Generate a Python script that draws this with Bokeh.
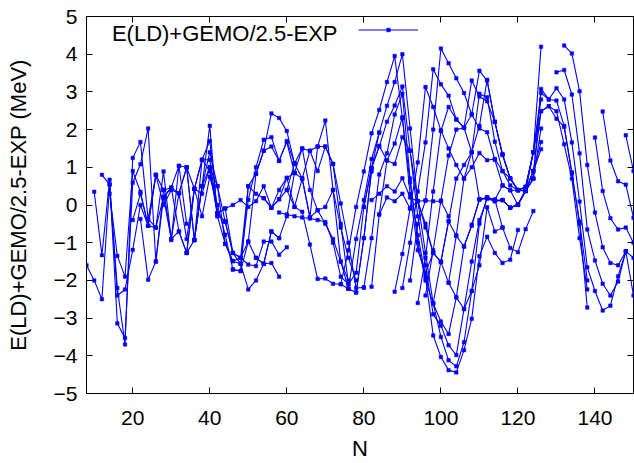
from bokeh.plotting import figure
from bokeh.models import (LinearAxis, Range1d, FixedTicker, Legend, LegendItem,
                          Label)
from bokeh.embed import file_html
from bokeh.resources import INLINE

# ---- data: each chain = (first N, values at N, N+2, N+4, ...) ----
c01 = (8,  [-1.6, -2.0, -2.5, 0.55, -2.2, -3.7, 1.25, 1.67, -0.38, 0.8])
c02 = (10, [0.35, -1.33, 0.67, -3.14, -3.53, 0.59, 1.08, 2.03, -1.5, 0.4, 0.46])
c03 = (12, [0.8, 0.54, -2.4, -2.24, -1.19, 0.0, -0.55, -0.6, 0.89, -0.93, 1.04, -0.5])
c04 = (14, [0.3, -1.35, -1.9, 0.9, 0.35, -0.55, 0.8, 0.0, 0.4, 0.31, 1.0, 0.43, 1.2])
c05 = (22, [-0.37, -1.98, -1.5, 0.2, 0.46, -0.7, -1.27, -0.93, 0.5, 2.1, -0.3])
c06 = (20, [-0.4, 0.3, -0.55, 0.8, 0.4, -0.9, 0.31, -0.9, 0.43, 1.2, 1.7, -0.22])
c07 = (24, [-0.37, -0.6, 0.2, 0.46, 1.04, 1.0, -0.93, 0.5, 1.4, 0.5, -0.44])
c08 = (28, [0.2, -0.9, -0.7, -1.27, 0.43, 0.3, 1.0, -0.3, -1.03, -1.49, -1.56, -2.24, -2.0, -1.56, -1.54, -1.9])
c09 = (30, [0.46, 0.31, 1.0, -0.93, 1.2, 1.2, -0.22, -0.44, -1.27, -1.4, -1.58, -1.62, -0.97, -0.97, -1.32, -1.12])
c10 = (34, [-1.27, 0.43, -0.3, 0.75, 0.0, -0.79, -1.71, -1.75, -0.97, -1.4, -1.56, -0.7, -0.88])
c11 = (36, [-0.93, 0.5, 1.0, 0.5, -1.03, -1.49, -1.4, 0.5, 0.83, 1.44, 2.43, 2.31, 1.96, 1.1])
c12 = (38, [1.2, 0.9, -0.22, -0.09, -1.27, -1.56, 0.14, 1.0, 1.73, 1.8, 1.17, 1.67, 0.85])
c13 = (42, [-0.22, -0.09, 0.0, 0.13, -0.05, 0.1, 0.5, -0.07, 0.15, 0.72, 0.85, 1.5, 1.44, 1.55, 1.55, 1.09, 0.04, -1.0, -2.2, -2.19])
c14 = (44, [-0.44, -1.27, -1.4, -0.97, 0.83, 1.44, 1.55, 1.17, 1.7, 1.1, 0.7, -0.33, -0.14, -0.05, 0.4, -1.5, -2.22, -2.32, -0.88, 0.89])
c15 = (46, [-1.71, -1.75, 0.5, 0.3, 0.18, -0.07, 0.4, 0.72, -0.05, 0.7, 1.44, 0.9, 1.55, 1.09, -0.5, -2.1, -1.8, -0.05, 0.98, 1.92])
c16 = (60, [0.4, -0.05, -0.18, -1.05, -1.96, -1.95, -2.09, -2.1, -2.22])
c17 = (54, [0.18, -0.07, 0.15, 0.4, 1.1, 1.5, 0.4, -0.14, -0.5, -0.9, -1.5, -2.0])
c18 = (52, [-1.4, -1.56, -0.7, -0.88, -0.3, 0.85, 0.7, -0.33, 1.55, 2.24, 0.4, -0.6, -1.4, -2.0])
c19 = (58, [-0.2, -0.25, -0.3, -0.33, -0.36, -0.4, -0.45, -1.0, -1.9, -2.1])
r01 = (74, [-2.1, -1.2, -0.05, 0.89, 1.9, 2.52, 3.26, 3.95, 2.3, 0.6, -0.8, -1.9, -3.46, -4.03, -4.38, -4.44, -3.85, -3.02, -1.36, -0.84, -1.27, -1.54, -1.45, -0.66])
r02 = (76, [-2.22, -0.9, 0.13, 1.22, 1.92, 2.63, 3.26, 4.0, 2.03, 0.1, -1.27, -2.61, -3.5, -4.12, -4.28, -3.64, -2.28, -0.5, 0.2, 0.14, 0.13, -0.07, 0.01, 0.37, 0.9, 1.48])
r03 = (78, [-2.32, -0.88, 0.97, 1.55, 2.21, 2.64, 3.14, 1.44, -0.3, -1.6, -2.9, -3.2, -3.72, -3.98, -2.76, -1.5, -0.4, 0.17, 0.1, 0.13, -0.07, 0.01, 0.39, 0.9, 2.49, 2.62, 2.49, 1.61, 0.7, -0.88, -2.24])
r04 = (80, [-2.19, -0.88, 0.81, 1.37, 2.4, 2.95, 0.7, -1.0, -2.0, -2.61, -3.09, -3.42, -2.45, -1.1, -0.52, 0.15, 0.2, 0.14, 0.52, 0.39, 0.0, 0.37, 0.7])
r05 = (82, [-2.17, -0.25, 1.18, 1.63, 2.33, 0.3, -1.2, -1.8, -1.27, -1.51, -2.06, -2.45, -2.76, -2.28, -1.6, -0.06, -0.7, -0.6, -1.14, -1.25, -0.64, -0.16])
r06 = (80, [-0.05, 0.98, 1.57, 1.18, 1.09, 1.8, 1.44, 0.1, -0.6, -1.27, -1.51, -0.43, -0.82, -1.1, -0.55, 0.14, 0.2, 0.14, -0.6])
r07 = (82, [0.13, 0.3, 0.5, 0.36, 0.71, 0.2, 0.1, -0.5, -1.27])
r08 = (84, [-0.25, 0.2, 0.1, 0.3, -0.09, 0.1, 0.12, 0.1, 0.1, -0.3])
d01 = (88, [-2.3, -1.3, -0.09, 1.13, 3.13, 2.6, 1.98, 1.5, 1.06, 0.7, 1.0, 1.38, 1.19, 1.22, 0.9, 0.71, 0.39, 0.48, 1.4])
d02 = (90, [-2.2, -1.0, 0.36, 1.66, 3.6, 3.2, 2.9, 2.27, 2.05, 1.4, 0.15, 0.17, 0.1, 0.13, -0.07, 0.01, 0.39, 0.9, 1.67])
d03 = (92, [-2.0, -0.5, 0.12, 2.0, 4.15, 3.76, 3.36, 2.97, 2.4, 2.03, 1.93, 1.2, 0.52, 0.39, 0.39, 0.37, 0.7, 2.03])
d04 = (94, [-2.6, -1.4, 0.36, 1.96, 2.6, 2.27, 2.05, 3.3, 2.88, 2.75, 2.21, 1.33, 0.7, 0.4, 0.48, 1.4, 2.8])
d05 = (96, [-2.4, -1.2, 0.12, 1.31, 2.0, 2.05, 2.4, 3.56, 3.3, 2.2, 1.35, 0.71, 0.39, 0.37, 0.7, 3.08, 2.8, 3.1, 2.8, 1.66, 0.09, -1.65, -2.28, -2.8, -2.67, -1.89, -1.23])
d06 = (98, [-2.6, -1.5, -0.43, 0.7, 1.06, 1.4, 2.1, 3.32, 2.21, 1.33, 0.7, 0.4, 0.48, 1.4, 2.97, 2.8, 2.77, 2.1, 0.87, -0.5, -2.72])
d07 = (102, [-2.06, -0.81, 0.7, 1.4, 2.95, 2.86, 1.68, 0.9, 0.52, 0.39, 0.39, 1.4, 2.49, 2.62, 2.29, 2.07, 0.83, -0.44, -2.0])
s01 = (118, [-0.07, 0.01, 0.39, 1.4, 4.2])
x01 = (132, [4.23, 4.02, 3.02, 1.06, -0.2, -1.12, -1.54, -1.6, -1.23, -1.4])
x02 = (130, [3.52, 3.58, 2.93, 1.37, -0.65, -1.47, -2.09, -2.4, -2.03, -1.23, -2.4])
x04 = (142, [2.48, 1.18, 0.63, 0.54, -0.34])
x05 = (140, [1.79, 0.37, -0.35, -0.65, -0.6, -1.0])
x06 = (148, [1.85, 0.9])

chains = [c01, c02, c03, c04, c05, c06, c07, c08, c09, c10, c11, c12, c13, c14,
          c15, c16, c17, c18, c19, r01, r02, r03, r04, r05, r06, r07, r08,
          d01, d02, d03, d04, d05, d06, d07, s01, x01, x02, x04, x05, x06]

x_ticks = [20, 40, 60, 80, 100, 120, 140]
y_ticks = [-5, -4, -3, -2, -1, 0, 1, 2, 3, 4, 5]
legend_text = "E(LD)+GEMO/2.5-EXP"

xs, ys, px, py = [], [], [], []
for start, vals in chains:
    ns = [start + 2 * i for i in range(len(vals))]
    xs.append(ns)
    ys.append(vals)
    px.extend(ns)
    py.extend(vals)

BLUE = "#0000ff"
FONT = "Liberation Sans"

p = figure(width=634, height=463, output_backend="svg", toolbar_location=None,
           x_range=Range1d(8, 150), y_range=Range1d(-5, 5),
           min_border_left=86, min_border_right=1, min_border_top=16,
           min_border_bottom=66, background_fill_color="white",
           border_fill_color="white")
p.grid.visible = False
p.outline_line_color = "black"
p.outline_line_width = 1

lines = p.multi_line(xs=xs, ys=ys, line_color=BLUE, line_width=1.1)
pts = p.scatter(x=px, y=py, marker="square", size=3.5, fill_color=BLUE,
                line_color=BLUE, line_width=0.5)

for ax, ticks in ((p.xaxis[0], x_ticks), (p.yaxis[0], y_ticks)):
    ax.ticker = FixedTicker(ticks=ticks)
    ax.major_tick_in = 6
    ax.major_tick_out = 0
    ax.minor_tick_line_color = None
    ax.axis_line_color = "black"
    ax.major_tick_line_color = "black"
    ax.major_label_text_font = FONT
    ax.major_label_text_font_size = "21px"
    ax.major_label_text_color = "black"
    ax.axis_label_text_font = FONT
    ax.axis_label_text_font_size = "22px"
    ax.axis_label_text_font_style = "normal"
    ax.axis_label_text_color = "black"

p.xaxis[0].axis_label = "N"
p.xaxis[0].major_label_standoff = 17
p.xaxis[0].axis_label_standoff = 8
p.yaxis[0].axis_label = "E(LD)+GEMO/2.5-EXP (MeV)"
p.yaxis[0].major_label_standoff = 9
p.yaxis[0].axis_label_standoff = 20

top = LinearAxis(ticker=FixedTicker(ticks=x_ticks), major_tick_in=6, major_tick_out=0,
                 minor_tick_line_color=None, axis_line_color=None,
                 major_label_text_font_size="1px", major_label_text_color=None,
                 major_label_standoff=0)
right = LinearAxis(ticker=FixedTicker(ticks=y_ticks), major_tick_in=6, major_tick_out=0,
                   minor_tick_line_color=None, axis_line_color=None,
                   major_label_text_font_size="1px", major_label_text_color=None,
                   major_label_standoff=0)
p.add_layout(top, "above")
p.add_layout(right, "right")

legend = Legend(items=[LegendItem(label=" ", renderers=[lines, pts])],
                location=(272, 359), glyph_width=60, glyph_height=9,
                label_width=0, label_height=9, label_standoff=0,
                padding=0, margin=0, spacing=0,
                border_line_color=None, background_fill_alpha=0,
                label_text_font_size="2px")
p.add_layout(legend, "center")

p.add_layout(Label(x=14.6, y=4.55, text=legend_text, text_font=FONT,
                   text_font_size="22px", text_baseline="middle",
                   text_color="black"))

open("out.html", "w").write(file_html(p, INLINE))
